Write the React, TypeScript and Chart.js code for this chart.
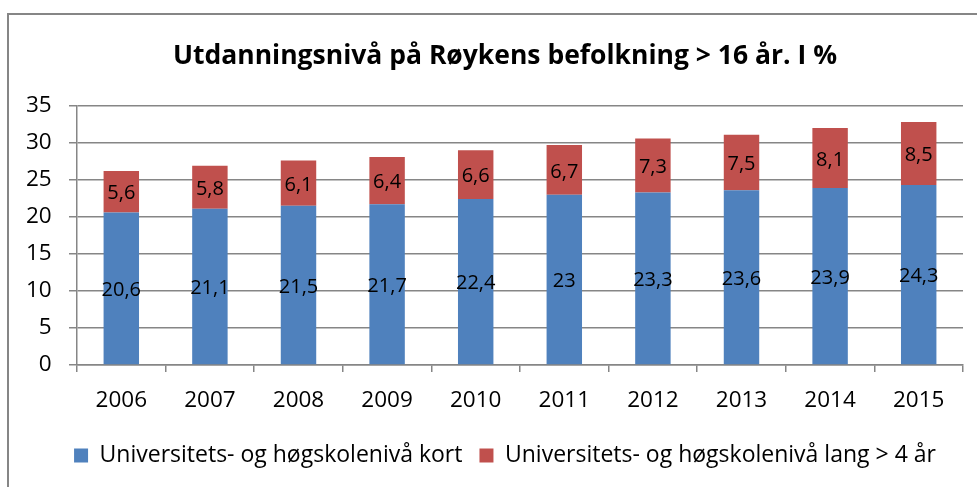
import React, { useEffect, useRef } from "react";
import { Chart, registerables } from "chart.js";

Chart.register(...registerables);

const TITLE = "Utdanningsnivå på Røykens befolkning > 16 år. I %";
const CATEGORIES = ["2006", "2007", "2008", "2009", "2010", "2011", "2012", "2013", "2014", "2015"];
const SERIES_KORT_LABEL = "Universitets- og høgskolenivå kort";
const SERIES_KORT = [20.6, 21.1, 21.5, 21.7, 22.4, 23, 23.3, 23.6, 23.9, 24.3];
const SERIES_LANG_LABEL = "Universitets- og høgskolenivå lang > 4 år";
const SERIES_LANG = [5.6, 5.8, 6.1, 6.4, 6.6, 6.7, 7.3, 7.5, 8.1, 8.5];
const Y_MIN = 0;
const Y_MAX = 35;
const Y_STEP = 5;

const FONT = "'Open Sans', sans-serif";
const GRID = "#868686";

const framePlugin = {
  id: "frame",
  beforeDraw(chart: any) {
    const ctx = chart.ctx;
    ctx.save();
    ctx.fillStyle = "#ffffff";
    ctx.fillRect(0, 0, chart.width, chart.height);
    ctx.strokeStyle = GRID;
    ctx.lineWidth = 2;
    ctx.beginPath();
    ctx.moveTo(8, chart.height + 2);
    ctx.lineTo(8, 14);
    ctx.lineTo(chart.width + 2, 14);
    ctx.stroke();
    ctx.restore();
  },
};

const dataLabelPlugin = {
  id: "dataLabels",
  afterDatasetsDraw(chart: any) {
    const ctx = chart.ctx;
    ctx.save();
    ctx.font = `20px ${FONT}`;
    ctx.fillStyle = "#000000";
    ctx.textAlign = "center";
    ctx.textBaseline = "middle";
    chart.data.datasets.forEach((ds: any, i: number) => {
      const meta = chart.getDatasetMeta(i);
      meta.data.forEach((el: any, j: number) => {
        const { x, y, base } = el.getProps(["x", "y", "base"], true);
        const v = ds.data[j];
        ctx.fillText(String(v).replace(".", ","), x, (y + base) / 2 + 2);
      });
    });
    ctx.restore();
  },
};

export default function App() {
  const ref = useRef<HTMLCanvasElement | null>(null);

  useEffect(() => {
    if (!ref.current) return;
    const chart = new Chart(ref.current, {
      type: "bar",
      data: {
        labels: CATEGORIES,
        datasets: [
          {
            label: SERIES_KORT_LABEL,
            data: SERIES_KORT,
            backgroundColor: "#4F81BD",
            borderWidth: 0,
            categoryPercentage: 1,
            barPercentage: 0.4,
          },
          {
            label: SERIES_LANG_LABEL,
            data: SERIES_LANG,
            backgroundColor: "#C0504D",
            borderWidth: 0,
            categoryPercentage: 1,
            barPercentage: 0.4,
          },
        ],
      },
      options: {
        responsive: false,
        animation: false,
        devicePixelRatio: 1,
        layout: { padding: { left: 47, right: 14, top: 0, bottom: 10 } },
        scales: {
          x: {
            stacked: true,
            grid: {
              display: true,
              drawOnChartArea: false,
              drawTicks: true,
              tickLength: 7,
              color: GRID,
              lineWidth: 1.5,
            },
            border: { display: true, color: GRID, width: 1.5 },
            ticks: {
              color: "#000000",
              font: { family: FONT, size: 22.5 },
              padding: 15,
              maxRotation: 0,
            },
            afterFit(scale: any) {
              scale.height -= 2;
            },
          },
          y: {
            stacked: true,
            min: Y_MIN,
            max: Y_MAX,
            ticks: {
              stepSize: Y_STEP,
              color: "#000000",
              font: { family: FONT, size: 22.5 },
              mirror: true,
              crossAlign: "far",
              padding: -51,
            },
            grid: {
              color: GRID,
              lineWidth: 1.5,
              tickLength: 8,
            },
            border: { display: true, color: GRID, width: 1.5 },
            afterFit(scale: any) {
              scale.width = 30;
            },
          },
        },
        plugins: {
          title: {
            display: true,
            text: TITLE,
            color: "#000000",
            font: { family: FONT, size: 26.5, weight: "bold" },
            padding: { top: 41, bottom: 33 },
          },
          legend: {
            display: true,
            position: "bottom",
            labels: {
              color: "#000000",
              font: { family: FONT, size: 23 },
              boxWidth: 14,
              boxHeight: 14,
              padding: 17,
            },
          },
          tooltip: { enabled: false },
        },
      },
      plugins: [framePlugin, dataLabelPlugin],
    });
    return () => chart.destroy();
  }, []);

  return (
    <div style={{ position: "fixed", left: 0, top: 0, width: 977, height: 487 }}>
      <canvas ref={ref} width={977} height={487} style={{ display: "block" }} />
    </div>
  );
}
